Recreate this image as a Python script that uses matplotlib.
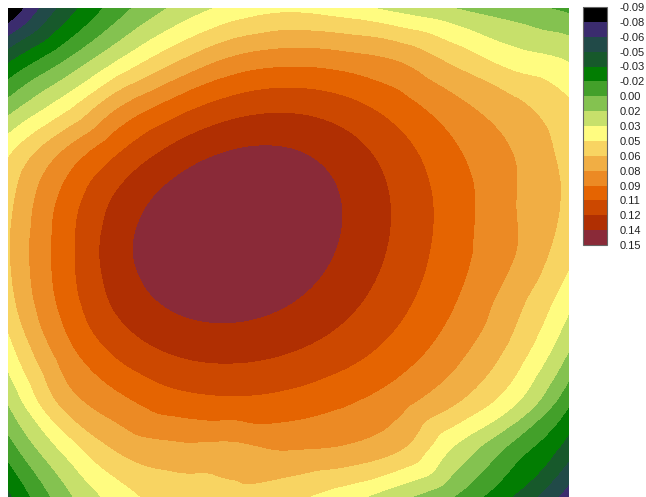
import numpy as np
import matplotlib
matplotlib.use("Agg")
import matplotlib.pyplot as plt
import matplotlib.tri as mtri
from matplotlib.colors import ListedColormap, BoundaryNorm
from matplotlib.cm import ScalarMappable

# contour levels and colorbar labels
levels = [-0.09, -0.075, -0.06, -0.045, -0.03, -0.015, 0.0, 0.015, 0.03,
          0.045, 0.06, 0.075, 0.09, 0.105, 0.12, 0.135, 0.15]
tick_labels = ["-0.09", "-0.08", "-0.06", "-0.05", "-0.03", "-0.02", "0.00",
               "0.02", "0.03", "0.05", "0.06", "0.08", "0.09", "0.11",
               "0.12", "0.14", "0.15"]
band_colors = ["#000000", "#3b2c6e", "#214a48", "#17592b", "#027d02",
               "#43a02a", "#84c250", "#c7e06b", "#fffc80", "#f8d462",
               "#f1ae44", "#ec8a24", "#e56401", "#cc4800", "#b02f02",
               "#8a2a38"]

# sampled field (rows top -> bottom, columns left -> right)
grid_x = [0, 1, 2, 3, 4, 5, 6, 7, 8, 9, 10]
grid_y = [0, 1, 2, 3, 4, 5, 6, 7, 8, 9, 10]
row0 = [-0.092, -0.040, -0.006, 0.018, 0.034, 0.041, 0.035, 0.024, 0.014, 0.005, -0.004]
row1 = [-0.037, -0.004, 0.028, 0.055, 0.075, 0.082, 0.079, 0.071, 0.053, 0.036, 0.027]
row2 = [0.006, 0.038, 0.078, 0.100, 0.112, 0.114, 0.108, 0.097, 0.082, 0.064, 0.047]
row3 = [0.043, 0.078, 0.111, 0.130, 0.137, 0.135, 0.124, 0.110, 0.093, 0.075, 0.054]
row4 = [0.055, 0.095, 0.126, 0.142, 0.147, 0.146, 0.134, 0.114, 0.096, 0.076, 0.056]
row5 = [0.058, 0.098, 0.130, 0.145, 0.149, 0.147, 0.133, 0.115, 0.095, 0.076, 0.049]
row6 = [0.053, 0.095, 0.123, 0.138, 0.142, 0.136, 0.125, 0.108, 0.089, 0.066, 0.034]
row7 = [0.038, 0.083, 0.110, 0.121, 0.124, 0.120, 0.113, 0.099, 0.079, 0.055, 0.015]
row8 = [0.017, 0.066, 0.090, 0.099, 0.099, 0.100, 0.094, 0.082, 0.064, 0.035, -0.011]
row9 = [-0.008, 0.034, 0.063, 0.071, 0.071, 0.076, 0.073, 0.061, 0.027, -0.005, -0.038]
row10 = [-0.034, 0.009, 0.038, 0.052, 0.056, 0.049, 0.036, 0.018, -0.002, -0.031, -0.068]

Z = np.array([row0, row1, row2, row3, row4, row5, row6, row7, row8, row9, row10])
X, Y = np.meshgrid(np.array(grid_x, float), np.array(grid_y, float))

# smooth weighted least-squares trend through the sampled values
DEG = 7
def design(u, v):
    u = (u - 5.0) / 5.0
    v = (v - 5.0) / 5.0
    return np.column_stack([u ** i * v ** j for i in range(DEG + 1)
                            for j in range(DEG + 1 - i)])

ix = np.abs(X - 5.0)
iy = np.abs(Y - 5.0)
edge = ((ix == 5.0) | (iy == 5.0)).ravel()
ring = ((ix >= 4.0) | (iy >= 4.0)).ravel()
wts = np.where(edge, 3.0, 1.0)
A = design(X.ravel(), Y.ravel())
coef, *_ = np.linalg.lstsq(A * wts[:, None], Z.ravel() * wts, rcond=None)

# correction near the frame so the outer bands follow the sampled values
resid = np.where(ring, Z.ravel() - A @ coef, 0.0)
tri = mtri.Triangulation(X.ravel(), Y.ravel())
rinterp = mtri.CubicTriInterpolator(tri, resid, kind="geom")

xf = np.linspace(grid_x[0], grid_x[-1], 400)
yf = np.linspace(grid_y[0], grid_y[-1], 400)
XF, YF = np.meshgrid(xf, yf)
ZF = (design(XF.ravel(), YF.ravel()) @ coef).reshape(XF.shape)
ZF = ZF + np.ma.filled(rinterp(XF, YF), 0.0)

W, H = 646, 497
fig = plt.figure(figsize=(W / 100, H / 100), dpi=100)
ax = fig.add_axes([8 / W, 0, 561 / W, 1 - 8 / H])

cmap = ListedColormap(band_colors)
cmap.set_under(band_colors[0])
cmap.set_over(band_colors[-1])
norm = BoundaryNorm(levels, cmap.N)
ax.contourf(XF, YF, ZF, levels=levels, cmap=cmap, norm=norm, extend="both")
ax.set_xlim(grid_x[0], grid_x[-1])
ax.set_ylim(grid_y[-1], grid_y[0])
ax.axis("off")

cax = fig.add_axes([583 / W, 1 - 245 / H, 24 / W, 238 / H])
sm = ScalarMappable(norm=norm, cmap=ListedColormap(band_colors))
cb = fig.colorbar(sm, cax=cax, ticks=levels)
cb.ax.set_yticklabels(tick_labels, fontfamily="Liberation Sans")
cb.ax.invert_yaxis()
cb.ax.tick_params(length=0, pad=9, labelsize=8, labelcolor="#222222")
cb.outline.set_edgecolor("#666666")
cb.outline.set_linewidth(0.8)

fig.savefig("out.png", dpi=100)
